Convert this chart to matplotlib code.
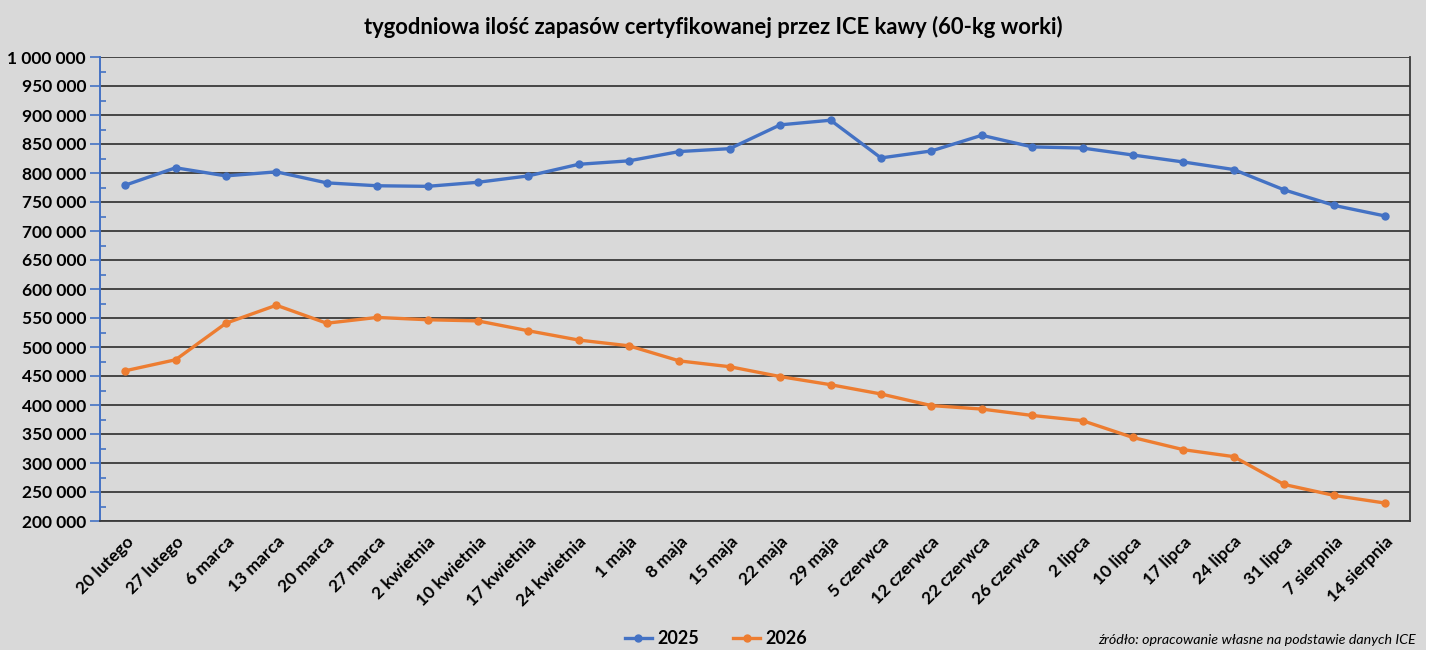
import matplotlib.pyplot as plt
from matplotlib.ticker import MultipleLocator, FuncFormatter
from matplotlib.patches import Rectangle

# tygodnie (oś X)
weeks = ["20 lutego", "27 lutego", "6 marca", "13 marca", "20 marca", "27 marca",
         "2 kwietnia", "10 kwietnia", "17 kwietnia", "24 kwietnia", "1 maja", "8 maja",
         "15 maja", "22 maja", "29 maja", "5 czerwca", "12 czerwca", "22 czerwca",
         "26 czerwca", "2 lipca", "10 lipca", "17 lipca", "24 lipca", "31 lipca",
         "7 sierpnia", "14 sierpnia"]

# zapasy w workach 60 kg
stock_2025 = [779000, 809000, 795000, 802000, 783000, 778000, 777000, 784000,
              795000, 815000, 821000, 837000, 842000, 883000, 891000, 826000,
              838000, 865000, 845000, 843000, 831000, 819000, 806000, 771000,
              744000, 726000]
stock_2026 = [459000, 478000, 541000, 572000, 541000, 551000, 547000, 545000,
              528000, 512000, 502000, 476000, 466000, 449000, 435000, 419000,
              399000, 393000, 382000, 373000, 344000, 323000, 311000, 263000,
              244000, 231000]

bg = "#d9d9d9"
blue = "#4472c4"
orange = "#ed7d31"

plt.rcParams['font.family'] = ['Lato', 'DejaVu Sans']

fig = plt.figure(figsize=(14.3, 6.57), dpi=100, facecolor="white")
fig.patches.append(Rectangle((0, 7 / 657), 1426 / 1430, 650 / 657,
                             transform=fig.transFigure, facecolor=bg,
                             edgecolor="none", zorder=-10))

ax = fig.add_axes([100 / 1430, (657 - 521) / 657, 1310 / 1430, 464 / 657])
ax.set_facecolor(bg)

x = range(len(weeks))
ax.plot(x, stock_2025, color=blue, lw=2.4, marker="o", ms=5, label="2025", zorder=3)
ax.plot(x, stock_2026, color=orange, lw=2.4, marker="o", ms=5, label="2026", zorder=3)

ax.set_xlim(-0.5, len(weeks) - 0.5)
ax.set_ylim(200000, 1000000)
ax.yaxis.set_major_locator(MultipleLocator(50000))
ax.yaxis.set_minor_locator(MultipleLocator(25000))
ax.yaxis.set_major_formatter(FuncFormatter(lambda v, p: f"{int(v):,}".replace(",", " ")))
ax.grid(axis="y", which="major", color="#3a3a3a", lw=1.3)
ax.set_axisbelow(True)

ax.set_xticks(list(x))
ax.set_xticklabels(weeks, rotation=45, ha="right", rotation_mode="anchor",
                   fontsize=12.5, fontweight="bold")
ax.tick_params(axis="x", length=0, pad=9)
ax.tick_params(axis="y", which="major", direction="out", length=7, color=blue,
               width=1.2, labelsize=12.5, pad=3)
ax.tick_params(axis="y", which="minor", direction="in", length=4, color=blue, width=1.2)
for lab in ax.get_yticklabels():
    lab.set_fontweight("bold")

ax.spines["left"].set_color(blue)
ax.spines["left"].set_linewidth(1.4)
ax.spines["top"].set_visible(False)
for s in ("right", "bottom"):
    ax.spines[s].set_color("#3a3a3a")
    ax.spines[s].set_linewidth(1.3)

fig.text(713 / 1430, 1 - 27 / 657, "tygodniowa ilość zapasów certyfikowanej przez ICE kawy (60-kg worki)",
         ha="center", va="center", fontsize=15.8, fontweight="bold")

leg = fig.legend(loc="center", bbox_to_anchor=(716 / 1430, 1 - 639 / 657), ncol=2,
                 frameon=False, prop={"weight": "bold", "size": 13},
                 handlelength=1.5, columnspacing=1.9, handletextpad=0.3)

fig.text(1416 / 1430, 1 - 640 / 657, "źródło: opracowanie własne na podstawie danych ICE",
         ha="right", va="center", fontsize=10.3, style="italic")

fig.savefig("out.png", dpi=100, facecolor=fig.get_facecolor())
